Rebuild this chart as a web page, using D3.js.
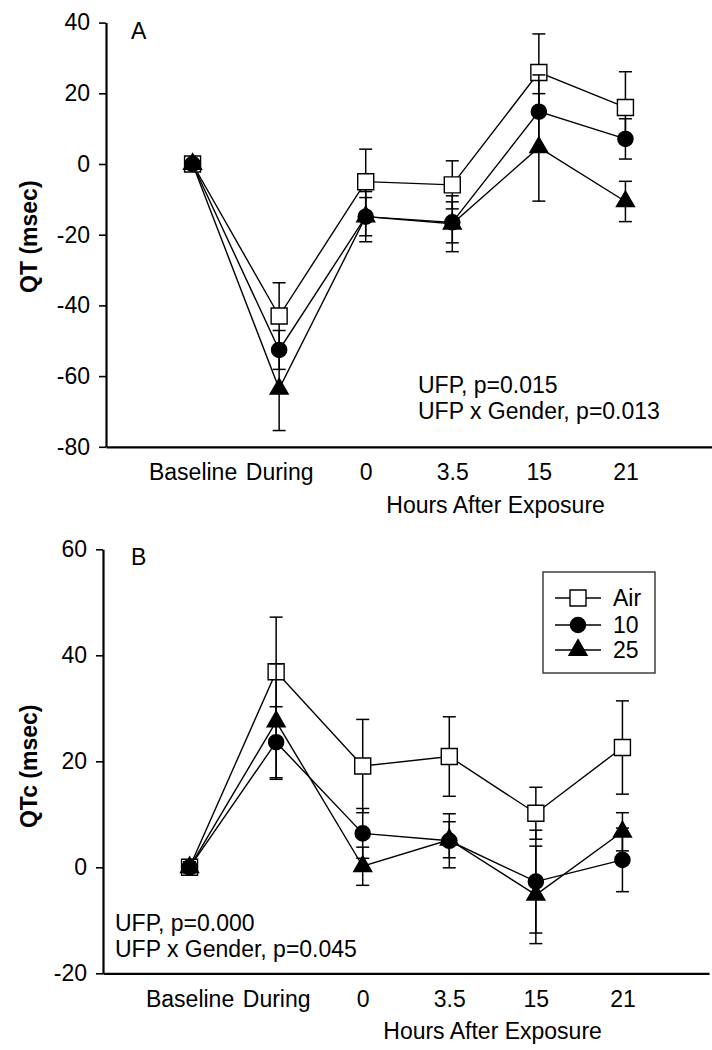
<!DOCTYPE html>
<html>
<head>
<meta charset="utf-8">
<script src="https://cdn.jsdelivr.net/npm/d3@7"></script>
<style>
  html, body { margin: 0; padding: 0; background: #fff; }
  svg { display: block; }
  text { font-family: "Liberation Sans", Arial, Helvetica, sans-serif; fill: #000; }
</style>
</head>
<body>
<svg id="chart" width="712" height="1050"></svg>
<script>
// ---- data ----
const categories = ["Baseline", "During", "0", "3.5", "15", "21"];
const seriesNames = ["Air", "10", "25"];

// Panel A: QT (msec)
const qtAir = [0, -43.0, -5.0, -5.9, 25.9, 16.0];
const qtAirErr = [1, 9.4, 9.2, 6.8, 10.9, 10.1];
const qt10 = [0, -52.6, -14.9, -16.5, 14.8, 7.1];
const qt10Err = [1, 5.5, 7.1, 5.8, 10.4, 5.7];
const qt25 = [0, -63.6, -14.9, -16.9, 4.7, -10.6];
const qt25Err = [1, 11.8, 5.4, 7.9, 15.2, 5.7];
const qtTicks = [40, 20, 0, -20, -40, -60, -80];

// Panel B: QTc (msec)
const qtcAir = [0, 36.9, 19.1, 20.9, 10.2, 22.6];
const qtcAirErr = [1, 10.3, 8.8, 7.5, 4.9, 8.8];
const qtc10 = [0, 23.6, 6.4, 5.0, -2.7, 1.4];
const qtc10Err = [1, 6.7, 4.7, 5.1, 9.7, 6.0];
const qtc25 = [0, 27.5, 0.2, 5.2, -5.2, 6.7];
const qtc25Err = [1, 10.9, 3.6, 3.4, 9.2, 3.6];
const qtcTicks = [60, 40, 20, 0, -20];

const FONT = 23;
const svg = d3.select("#chart");

const symbols = [d3.symbolSquare, d3.symbolCircle, d3.symbolTriangle];
const symSizes = [256, 180, 140];
const symFill = ["#fff", "#000", "#000"];

function drawPanel(cfg) {
  const g = svg.append("g");
  const x = d3.scaleLinear().domain([0, 7]).range([cfg.left, cfg.left + 606]);
  const y = d3.scaleLinear().domain(cfg.yDomain).range([cfg.yTop, cfg.yBottom]);

  // y axis
  const ya = g.append("g").attr("transform", `translate(${cfg.left},0)`)
    .call(d3.axisLeft(y).tickValues(cfg.ticks).tickFormat(d => String(d))
      .tickSize(7).tickSizeOuter(0).tickPadding(9));
  ya.select(".domain").attr("stroke", "#000").attr("stroke-width", 2.2);
  ya.selectAll(".tick line").attr("stroke", "#000").attr("stroke-width", 1.6);
  ya.selectAll(".tick text").attr("font-size", FONT).attr("font-family", "Liberation Sans, Arial, sans-serif");

  // x axis
  const xa = g.append("g").attr("transform", `translate(0,${cfg.yBottom})`)
    .call(d3.axisBottom(x).tickValues([1, 2, 3, 4, 5, 6])
      .tickFormat(i => categories[i - 1]).tickSize(0).tickSizeOuter(0).tickPadding(17));
  xa.select(".domain").attr("stroke", "#000").attr("stroke-width", 2.2);
  xa.selectAll(".tick text").attr("font-size", FONT).attr("font-family", "Liberation Sans, Arial, sans-serif");

  // x axis title centered over hours categories
  g.append("text").attr("x", (x(3) + x(6)) / 2).attr("y", cfg.yBottom + 66)
    .attr("text-anchor", "middle").attr("font-size", FONT).text("Hours After Exposure");

  // y axis title
  g.append("text").attr("transform", `translate(37,${(cfg.yTop + cfg.yBottom) / 2 + cfg.labelShift}) rotate(-90)`)
    .attr("text-anchor", "middle").attr("font-size", FONT).attr("font-weight", "bold").text(cfg.yLabel);

  // panel letter
  g.append("text").attr("x", 131).attr("y", cfg.yTop + 16).attr("font-size", FONT).text(cfg.letter);

  // annotation
  cfg.notes.forEach((t, i) => {
    g.append("text").attr("x", cfg.noteX).attr("y", cfg.noteY + i * 25.5)
      .attr("font-size", FONT).text(t);
  });

  const line = d3.line().x((d, i) => x(i + 1)).y(d => y(d));
  // connecting lines
  cfg.series.forEach(s => {
    g.append("path").attr("d", line(s.v)).attr("fill", "none")
      .attr("stroke", "#000").attr("stroke-width", 1.4);
  });
  // error bars and markers per series
  cfg.series.forEach((s, k) => {
    const eb = g.append("g").attr("stroke", "#000").attr("stroke-width", 1.5);
    s.v.forEach((v, i) => {
      const cx = x(i + 1);
      const lo = y(v - s.e[i]), hi = y(v + s.e[i]);
      eb.append("line").attr("x1", cx).attr("x2", cx).attr("y1", lo).attr("y2", hi);
      eb.append("line").attr("x1", cx - 6.5).attr("x2", cx + 6.5).attr("y1", lo).attr("y2", lo);
      eb.append("line").attr("x1", cx - 6.5).attr("x2", cx + 6.5).attr("y1", hi).attr("y2", hi);
    });
    g.append("g").selectAll("path").data(s.v).join("path")
      .attr("transform", (d, i) => `translate(${x(i + 1)},${y(d)})`)
      .attr("d", d3.symbol().type(symbols[k]).size(symSizes[k]))
      .attr("fill", symFill[k]).attr("stroke", "#000").attr("stroke-width", 1.4);
  });
}

drawPanel({
  left: 106, yTop: 22.6, yBottom: 446.8, yDomain: [40, -80], ticks: qtTicks,
  yLabel: "QT (msec)", letter: "A", labelShift: 2,
  notes: ["UFP, p=0.015", "UFP x Gender, p=0.013"], noteX: 418, noteY: 393,
  series: [{ v: qtAir, e: qtAirErr }, { v: qt10, e: qt10Err }, { v: qt25, e: qt25Err }]
});

drawPanel({
  left: 103, yTop: 549.3, yBottom: 973.3, yDomain: [60, -20], ticks: qtcTicks,
  yLabel: "QTc (msec)", letter: "B", labelShift: 5,
  notes: ["UFP, p=0.000", "UFP x Gender, p=0.045"], noteX: 115, noteY: 931,
  series: [{ v: qtcAir, e: qtcAirErr }, { v: qtc10, e: qtc10Err }, { v: qtc25, e: qtc25Err }]
});

// legend (panel B)
const lg = svg.append("g");
lg.append("rect").attr("x", 543).attr("y", 572).attr("width", 112).attr("height", 101)
  .attr("fill", "#fff").attr("stroke", "#333").attr("stroke-width", 1.4);
const legendY = [598, 625, 650];
seriesNames.forEach((name, k) => {
  const yy = legendY[k];
  lg.append("line").attr("x1", 555).attr("x2", 601).attr("y1", yy).attr("y2", yy)
    .attr("stroke", "#000").attr("stroke-width", 1.4);
  lg.append("path").attr("transform", `translate(578,${yy})`)
    .attr("d", d3.symbol().type(symbols[k]).size(symSizes[k]))
    .attr("fill", symFill[k]).attr("stroke", "#000").attr("stroke-width", 1.4);
  lg.append("text").attr("x", 613).attr("y", yy + 8).attr("font-size", FONT).text(name);
});
</script>
</body>
</html>
